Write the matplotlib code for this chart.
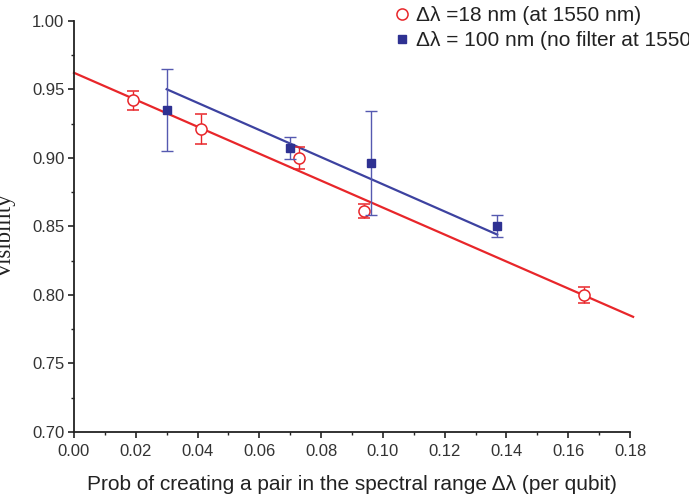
import matplotlib.pyplot as plt
from matplotlib.lines import Line2D
from matplotlib.ticker import MultipleLocator

# --- data ---
# red: delta lambda = 18 nm (at 1550 nm)
x_18 = [0.019, 0.041, 0.073, 0.094, 0.165]
v_18 = [0.942, 0.921, 0.900, 0.861, 0.800]
err_18 = [0.007, 0.011, 0.008, 0.005, 0.006]

# blue: delta lambda = 100 nm (no filter)
x_100 = [0.030, 0.070, 0.096, 0.137]
v_100 = [0.935, 0.907, 0.896, 0.850]
err_100 = [0.030, 0.008, 0.038, 0.008]

# linear fits (end points)
fit_x_18 = [0.0, 0.181]
fit_y_18 = [0.962, 0.784]
fit_x_100 = [0.030, 0.137]
fit_y_100 = [0.950, 0.844]

label_18 = 'Δλ =18 nm (at 1550 nm)'
label_100 = 'Δλ = 100 nm (no filter at 1550 nm)'

RED = '#e8262a'
BLUE = '#2e3192'

plt.rcParams['font.family'] = ['Liberation Sans', 'DejaVu Sans']

fig = plt.figure(figsize=(6.89, 4.95), dpi=100)
ax = fig.add_axes([0.1074, 0.1273, 0.8070, 0.8309])

ax.plot(fit_x_18, fit_y_18, color=RED, lw=1.6, zorder=2, clip_on=False)
ax.plot(fit_x_100, fit_y_100, color='#3d42a0', lw=1.6, zorder=2)

ax.errorbar(x_18, v_18, yerr=err_18, fmt='o', mfc='white', mec=RED, ms=8,
            mew=1.1, ecolor=RED, elinewidth=1.0, capsize=4, capthick=1.0,
            zorder=3)
ax.errorbar(x_100, v_100, yerr=err_100, fmt='s', mfc=BLUE, mec=BLUE, ms=6,
            ecolor='#5559b0', elinewidth=1.0, capsize=4, capthick=1.0,
            zorder=4)

ax.set_xlim(0, 0.18)
ax.set_ylim(0.70, 1.00)
ax.xaxis.set_major_locator(MultipleLocator(0.02))
ax.xaxis.set_minor_locator(MultipleLocator(0.01))
ax.yaxis.set_major_locator(MultipleLocator(0.05))
ax.yaxis.set_minor_locator(MultipleLocator(0.025))
ax.xaxis.set_major_formatter(plt.FormatStrFormatter('%.2f'))
ax.yaxis.set_major_formatter(plt.FormatStrFormatter('%.2f'))

ax.spines['top'].set_visible(False)
ax.spines['right'].set_visible(False)
for s in ('left', 'bottom'):
    ax.spines[s].set_linewidth(1.3)
    ax.spines[s].set_color('#222222')
ax.tick_params(which='major', direction='out', length=4, width=1.2,
               labelsize=12, labelcolor='#333333', color='#222222')
ax.tick_params(which='minor', direction='out', length=2.5, width=1.0,
               color='#222222')
ax.tick_params(axis='x', pad=5)
ax.tick_params(axis='y', pad=3)

ax.set_xlabel('Prob of creating a pair in the spectral range Δλ (per qubit)',
              fontsize=15, color='#222222', labelpad=11)
fig.text(0.008, 0.523, 'Visibility', rotation=90, ha='center', va='center',
         fontsize=16.5, family=['Liberation Serif'], color='#222222')

# legend: markers only, as in the original
handles = [
    Line2D([], [], ls='none', marker='o', mfc='white', mec=RED, ms=8, mew=1.1),
    Line2D([], [], ls='none', marker='s', mfc=BLUE, mec=BLUE, ms=6),
]
leg = fig.legend(handles, [label_18, label_100], loc='upper left',
                 bbox_to_anchor=(0.5747, 0.988), frameon=False,
                 fontsize=15, handlelength=0.6, handletextpad=0.35,
                 labelspacing=0.3, borderpad=0, borderaxespad=0)
for t in leg.get_texts():
    t.set_color('#222222')

fig.savefig('out.png', dpi=100)
